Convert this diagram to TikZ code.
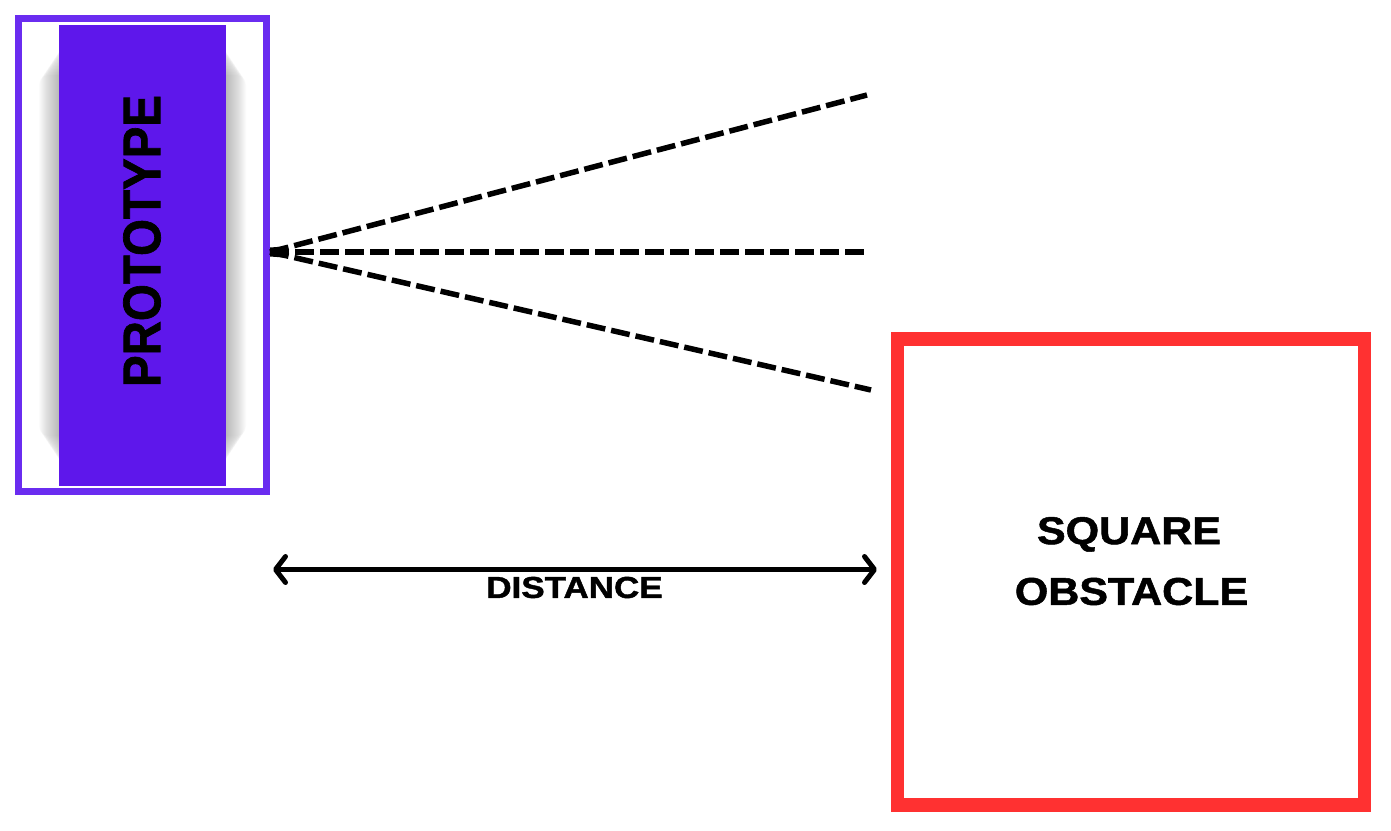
\documentclass[tikz,border=0pt]{standalone}
\usepackage{fontspec}
\setmainfont{Liberation Sans}[BoldFeatures={FakeBold=1.3}]
\usepackage{graphicx}
\usetikzlibrary{arrows.meta}
\definecolor{protopurple}{HTML}{5E17EB}
\definecolor{protoborder}{HTML}{6A2CF0}
\definecolor{obstred}{HTML}{FF3131}
\tikzset{
  beam/.style={line width=5.5pt, dash pattern=on 19pt off 6pt},
  dimline/.style={line width=5pt, {Straight Barb[length=10pt, width=26pt, line cap=round, line join=round]}-{Straight Barb[length=10pt, width=26pt, line cap=round, line join=round]}},
  lbl/.style={inner sep=0pt, font=\bfseries}
}
\begin{document}
\begin{tikzpicture}[x=1pt, y=-1pt]
\useasboundingbox (0,0) rectangle (1391,830);
% prototype outer frame
\draw[protoborder, line width=6.5pt] (18.3,18.3) rectangle (266.7,491.7);
% soft shadow behind the inner bar
\foreach \i in {1,...,20} {
  \fill[black, opacity=0.016, rounded corners=10pt] (59-\i,45+1.5*\i) rectangle (226+\i,466-1.5*\i);
}
\fill[protopurple] (59,25) rectangle (226,486);
\node[lbl, font=\bfseries\fontsize{53}{60}\selectfont] (proto) at (142,241)
  {\rotatebox{90}{\scalebox{0.896}[1]{PROTOTYPE}}};
% sensor origin and beam ends
\coordinate (src) at (270,252);
\coordinate (up) at (867,95);
\coordinate (mid) at (864,252);
\coordinate (low) at (871,390);
\draw[beam] (src) -- (up);
\draw[beam] (src) -- (mid);
\draw[beam] (src) -- (low);
\fill (src) ++(0,-4.5) -- ++(14,-1) -- ++(0,11) -- ++(-14,-1) -- cycle;
% obstacle
\draw[obstred, line width=13.5pt] (897.5,339) rectangle (1364.5,805);
\node[lbl, font=\bfseries\fontsize{43}{50}\selectfont] (sq) at (1129,534.4) {\scalebox{1}[0.9]{SQUARE}};
\node[lbl, font=\bfseries\fontsize{43}{50}\selectfont] (obs) at (1131.5,591.5) {\scalebox{1}[0.9]{OBSTACLE}};
% distance
\coordinate (dl) at (273,569.5);
\coordinate (dr) at (877,569.5);
\draw[dimline] (dl) -- (dr);
\node[lbl, font=\bfseries\fontsize{35}{40}\selectfont] (dist) at (574.5,587.5) {\scalebox{1}[0.865]{DISTANCE}};
\end{tikzpicture}
\end{document}
